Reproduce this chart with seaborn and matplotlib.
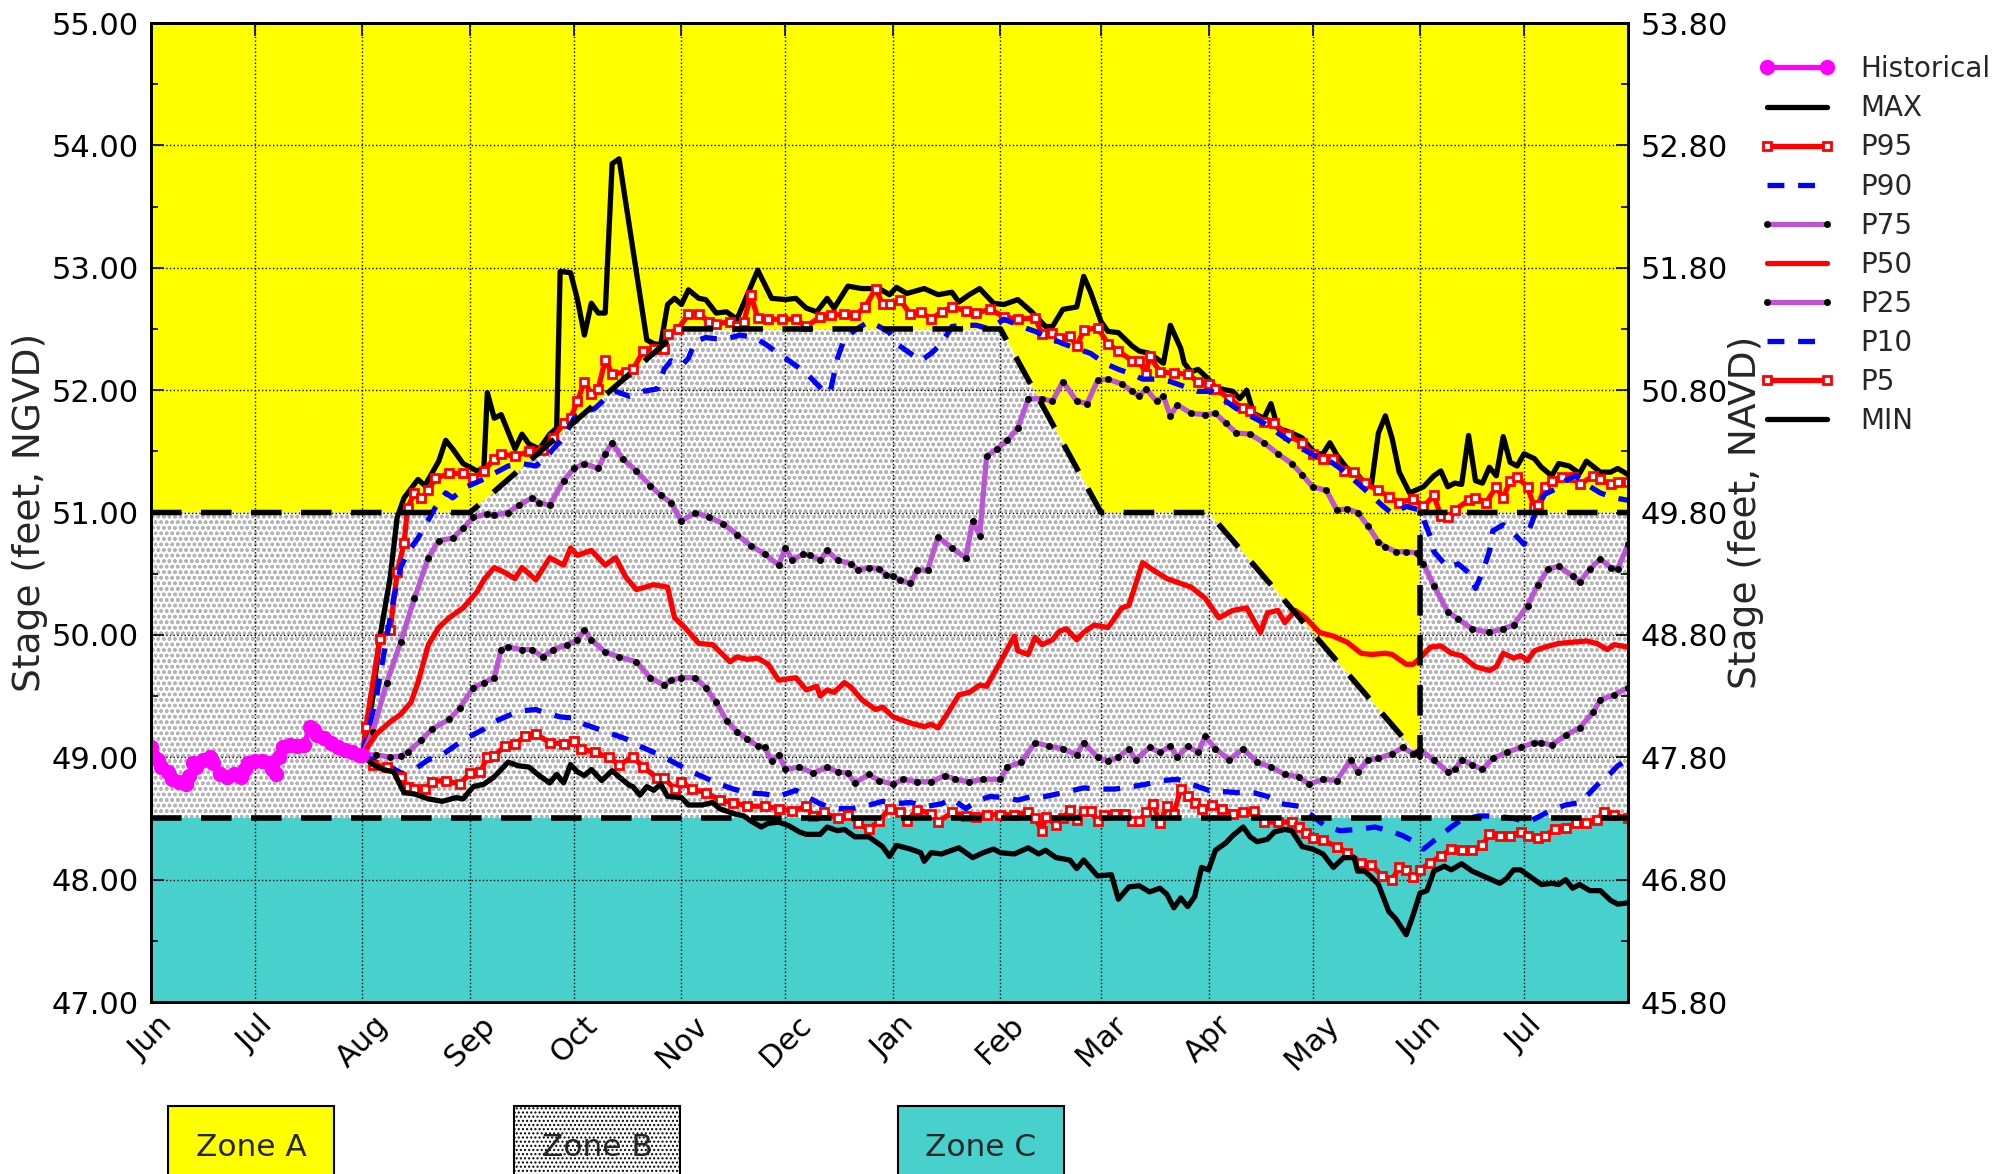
import matplotlib
matplotlib.use("Agg")
import matplotlib.dates as mdates
import matplotlib.pyplot as plt
import numpy as np
import pandas as pd
import seaborn as sns
from matplotlib.ticker import FormatStrFormatter, MultipleLocator

# ── Dates ──────────────────────────────────────────────────────────────────
HIST_START = "2019-06-01"   # day 0 of the historical record
FCST_START = "2019-08-01"   # day 0 of the forecast traces
X_START = "2019-06-01"
X_END = "2020-07-31"

# ── Historical stage (day from Jun 1, feet NGVD) ──────────────────────────
HISTORICAL = [(0, 49.08), (1, 49.00), (2, 48.98), (3, 48.92), (5, 48.88), (6, 48.82),
              (8, 48.80), (10, 48.78), (11, 48.85), (12, 48.95), (13, 48.92), (15, 48.98),
              (17, 49.00), (18, 48.95), (20, 48.86), (22, 48.84), (24, 48.86), (26, 48.84),
              (27, 48.90), (28, 48.95), (30, 48.97), (32, 48.97), (34, 48.95), (35, 48.90),
              (36, 48.86), (37, 49.00), (38, 49.08), (40, 49.10), (42, 49.09), (44, 49.10),
              (46, 49.25), (47, 49.22), (48, 49.18), (50, 49.16), (52, 49.12), (54, 49.08),
              (56, 49.06), (58, 49.04), (60, 49.02), (61, 49.02)]

# ── Forecast traces (day from Aug 1, feet NGVD) ───────────────────────────
MAX = [(0, 49.02), (3, 49.49), (5, 49.98), (8, 50.47), (10, 50.96), (12, 51.12), (16, 51.27),
       (18, 51.22), (22, 51.42), (24, 51.59), (26, 51.52), (29, 51.40), (33, 51.34), (35, 51.36),
       (36, 51.98), (38, 51.77), (40, 51.80), (44, 51.52), (46, 51.64), (48, 51.56), (51, 51.52),
       (54, 51.64), (56, 51.69), (57, 52.97), (60, 52.96), (62, 52.74), (64, 52.45), (66, 52.71),
       (68, 52.63), (70, 52.63), (72, 53.85), (74, 53.89), (78, 53.15), (82, 52.41), (84, 52.38),
       (86, 52.37), (88, 52.70), (90, 52.75), (92, 52.70), (94, 52.82), (97, 52.75), (99, 52.74),
       (102, 52.63), (105, 52.64), (108, 52.58), (111, 52.78), (114, 52.98), (118, 52.75),
       (122, 52.74), (125, 52.75), (128, 52.67), (131, 52.64), (134, 52.75), (136, 52.67),
       (140, 52.85), (144, 52.83), (147, 52.83), (149, 52.83), (152, 52.78), (154, 52.84),
       (157, 52.79), (162, 52.83), (166, 52.78), (170, 52.80), (172, 52.72), (175, 52.78),
       (178, 52.83), (182, 52.71), (185, 52.70), (189, 52.74), (193, 52.64), (197, 52.52),
       (199, 52.52), (202, 52.66), (206, 52.68), (208, 52.93), (210, 52.80), (213, 52.56),
       (215, 52.48), (218, 52.47), (222, 52.36), (224, 52.32), (227, 52.30), (231, 52.22),
       (233, 52.53), (236, 52.34), (237, 52.22), (239, 52.15), (241, 52.17), (244, 52.09),
       (246, 52.02), (251, 51.99), (253, 51.93), (255, 52.00), (257, 51.81), (260, 51.77),
       (262, 51.89), (264, 51.69), (268, 51.65), (271, 51.61), (273, 51.54), (275, 51.48),
       (277, 51.48), (279, 51.57), (281, 51.47), (284, 51.36), (287, 51.31), (289, 51.24),
       (291, 51.23), (293, 51.65), (295, 51.79), (297, 51.60), (299, 51.33), (302, 51.16),
       (306, 51.21), (309, 51.30), (311, 51.34), (313, 51.21), (315, 51.24), (317, 51.23),
       (319, 51.63), (321, 51.26), (323, 51.24), (325, 51.37), (327, 51.30), (329, 51.62),
       (331, 51.41), (333, 51.38), (335, 51.48), (338, 51.44), (340, 51.37), (343, 51.30),
       (345, 51.40), (348, 51.38), (351, 51.32), (353, 51.42), (357, 51.33), (360, 51.33),
       (362, 51.36), (365, 51.31)]

P95 = [(0, 49.02), (1, 49.25), (5, 49.97), (8, 50.04), (10, 50.51), (12, 50.75), (13, 51.04),
       (15, 51.16), (17, 51.12), (19, 51.18), (21, 51.28), (25, 51.32), (29, 51.32), (32, 51.28),
       (35, 51.34), (38, 51.44), (40, 51.48), (44, 51.46), (48, 51.50), (52, 51.51), (55, 51.61),
       (58, 51.73), (60, 51.77), (62, 51.91), (64, 52.07), (66, 51.97), (68, 52.01), (70, 52.25),
       (72, 52.13), (76, 52.15), (78, 52.17), (81, 52.32), (84, 52.34), (87, 52.34), (88, 52.46),
       (91, 52.50), (94, 52.62), (97, 52.62), (100, 52.56), (102, 52.54), (106, 52.56),
       (108, 52.52), (110, 52.56), (112, 52.78), (114, 52.59), (117, 52.58), (121, 52.58),
       (125, 52.58), (128, 52.52), (132, 52.60), (135, 52.61), (139, 52.62), (142, 52.61),
       (145, 52.68), (148, 52.83), (150, 52.70), (152, 52.70), (155, 52.74), (158, 52.62),
       (161, 52.64), (164, 52.58), (167, 52.64), (170, 52.68), (174, 52.65), (177, 52.63),
       (181, 52.66), (185, 52.60), (189, 52.58), (194, 52.59), (196, 52.46), (199, 52.47),
       (201, 52.43), (204, 52.44), (206, 52.36), (208, 52.49), (212, 52.51), (215, 52.38),
       (218, 52.32), (222, 52.24), (224, 52.24), (226, 52.13), (227, 52.28), (230, 52.15),
       (234, 52.14), (238, 52.13), (241, 52.07), (244, 52.05), (246, 52.01), (250, 51.93),
       (254, 51.85), (256, 51.83), (260, 51.74), (263, 51.73), (267, 51.63), (271, 51.57),
       (274, 51.48), (277, 51.44), (280, 51.44), (283, 51.34), (286, 51.33), (289, 51.24),
       (293, 51.18), (296, 51.13), (299, 51.08), (303, 51.11), (306, 51.05), (309, 51.14),
       (311, 50.97), (313, 50.96), (315, 51.02), (319, 51.10), (321, 51.12), (324, 51.08),
       (327, 51.21), (329, 51.12), (331, 51.26), (333, 51.29), (336, 51.21), (338, 51.04),
       (339, 51.06), (341, 51.21), (343, 51.26), (346, 51.29), (349, 51.29), (351, 51.23),
       (355, 51.30), (357, 51.27), (360, 51.23), (362, 51.25), (365, 51.25)]

P90 = [(0, 49.02), (4, 49.49), (7, 49.98), (9, 50.30), (11, 50.55), (13, 50.67), (16, 50.79),
       (21, 51.04), (24, 51.16), (26, 51.12), (30, 51.21), (34, 51.26), (38, 51.32), (42, 51.38),
       (46, 51.40), (50, 51.38), (53, 51.45), (55, 51.52), (58, 51.61), (61, 51.77), (63, 51.81),
       (67, 51.85), (70, 51.93), (73, 51.99), (77, 51.95), (81, 51.99), (85, 52.01), (87, 52.17),
       (89, 52.24), (92, 52.20), (94, 52.26), (96, 52.40), (99, 52.43), (102, 52.42),
       (105, 52.42), (109, 52.45), (113, 52.43), (116, 52.38), (121, 52.28), (125, 52.20),
       (128, 52.14), (131, 52.05), (134, 51.97), (135, 52.00), (137, 52.26), (139, 52.42),
       (142, 52.49), (146, 52.56), (149, 52.52), (152, 52.47), (154, 52.38), (158, 52.30),
       (161, 52.24), (164, 52.30), (167, 52.38), (170, 52.52), (174, 52.53), (177, 52.53),
       (181, 52.50), (185, 52.58), (190, 52.52), (194, 52.48), (198, 52.43), (202, 52.38),
       (206, 52.34), (210, 52.30), (214, 52.22), (218, 52.17), (222, 52.13), (225, 52.09),
       (229, 52.09), (233, 52.07), (237, 52.03), (241, 51.99), (245, 51.99), (248, 51.93),
       (252, 51.85), (256, 51.79), (260, 51.73), (264, 51.65), (268, 51.57), (271, 51.52),
       (275, 51.46), (279, 51.42), (283, 51.34), (287, 51.24), (291, 51.14), (294, 51.06),
       (297, 50.99), (301, 51.05), (305, 51.02), (308, 50.80), (309, 50.68), (313, 50.55),
       (316, 50.58), (319, 50.51), (321, 50.38), (323, 50.51), (325, 50.68), (326, 50.85),
       (329, 50.90), (332, 50.83), (335, 50.74), (337, 50.90), (339, 51.05), (341, 51.15),
       (344, 51.19), (347, 51.26), (350, 51.30), (353, 51.23), (357, 51.16), (361, 51.12),
       (365, 51.10)]

P75 = [(0, 49.02), (3, 49.21), (7, 49.61), (11, 49.94), (15, 50.30), (19, 50.63), (22, 50.77),
       (26, 50.79), (29, 50.87), (32, 50.96), (36, 50.99), (38, 50.98), (42, 51.00), (45, 51.06),
       (49, 51.12), (51, 51.08), (54, 51.06), (58, 51.26), (61, 51.36), (64, 51.40), (68, 51.36),
       (70, 51.48), (72, 51.57), (75, 51.44), (79, 51.34), (83, 51.22), (86, 51.14), (89, 51.08),
       (92, 50.93), (96, 51.00), (100, 50.96), (104, 50.91), (108, 50.82), (112, 50.73),
       (116, 50.66), (120, 50.57), (122, 50.71), (124, 50.61), (127, 50.66), (129, 50.65),
       (132, 50.61), (134, 50.69), (137, 50.61), (141, 50.58), (143, 50.53), (146, 50.55),
       (149, 50.54), (151, 50.49), (153, 50.48), (155, 50.45), (158, 50.42), (160, 50.53),
       (163, 50.53), (166, 50.80), (170, 50.71), (174, 50.63), (176, 50.93), (178, 50.81),
       (180, 51.46), (183, 51.52), (186, 51.59), (189, 51.69), (192, 51.93), (196, 51.93),
       (199, 51.91), (202, 52.07), (206, 51.91), (209, 51.89), (212, 52.08), (215, 52.09),
       (219, 52.05), (222, 51.99), (224, 51.95), (226, 52.01), (229, 51.91), (231, 51.95),
       (233, 51.79), (235, 51.88), (239, 51.81), (243, 51.80), (246, 51.81), (249, 51.73),
       (252, 51.65), (256, 51.64), (260, 51.57), (264, 51.48), (268, 51.40), (271, 51.31),
       (274, 51.21), (278, 51.18), (281, 51.02), (284, 51.03), (287, 51.00), (290, 50.89),
       (293, 50.76), (295, 50.72), (298, 50.68), (301, 50.68), (304, 50.67), (306, 50.58),
       (309, 50.40), (313, 50.19), (316, 50.13), (320, 50.05), (325, 50.02), (329, 50.05),
       (332, 50.08), (336, 50.24), (339, 50.41), (342, 50.54), (345, 50.56), (349, 50.48),
       (351, 50.43), (354, 50.54), (357, 50.62), (360, 50.55), (362, 50.54), (365, 50.74)]

P50 = [(0, 49.02), (4, 49.19), (8, 49.29), (11, 49.35), (14, 49.45), (16, 49.61), (19, 49.92),
       (22, 50.06), (25, 50.14), (29, 50.22), (33, 50.35), (35, 50.45), (38, 50.55), (41, 50.51),
       (44, 50.46), (46, 50.55), (50, 50.45), (54, 50.63), (58, 50.57), (60, 50.71), (62, 50.65),
       (66, 50.69), (70, 50.57), (73, 50.63), (76, 50.47), (79, 50.37), (84, 50.41), (88, 50.39),
       (90, 50.14), (93, 50.06), (97, 49.93), (101, 49.92), (106, 49.78), (108, 49.82),
       (111, 49.80), (114, 49.81), (117, 49.76), (120, 49.63), (125, 49.65), (128, 49.55),
       (131, 49.58), (132, 49.50), (134, 49.55), (136, 49.53), (139, 49.61), (141, 49.57),
       (144, 49.47), (148, 49.39), (150, 49.41), (153, 49.33), (155, 49.31), (158, 49.28),
       (162, 49.25), (164, 49.27), (166, 49.24), (169, 49.37), (172, 49.51), (175, 49.53),
       (178, 49.59), (180, 49.58), (184, 49.78), (188, 49.99), (189, 49.87), (192, 49.84),
       (194, 49.98), (196, 49.92), (199, 49.96), (201, 50.03), (203, 50.05), (206, 49.96),
       (208, 50.02), (211, 50.08), (215, 50.06), (219, 50.22), (221, 50.24), (225, 50.59),
       (228, 50.53), (232, 50.46), (235, 50.43), (239, 50.39), (243, 50.30), (247, 50.14),
       (251, 50.20), (255, 50.22), (259, 50.02), (261, 50.18), (264, 50.20), (266, 50.10),
       (269, 50.20), (272, 50.14), (276, 50.02), (280, 49.99), (284, 49.94), (288, 49.85),
       (291, 49.84), (295, 49.85), (297, 49.84), (301, 49.76), (303, 49.76), (305, 49.81),
       (308, 49.90), (311, 49.91), (314, 49.85), (317, 49.83), (321, 49.74), (325, 49.71),
       (327, 49.74), (329, 49.85), (332, 49.81), (334, 49.83), (336, 49.79), (338, 49.87),
       (341, 49.90), (345, 49.93), (349, 49.94), (353, 49.95), (356, 49.93), (359, 49.88),
       (361, 49.92), (365, 49.90)]

P25 = [(0, 49.02), (4, 49.02), (8, 49.00), (11, 49.01), (13, 49.04), (17, 49.14), (20, 49.23),
       (25, 49.31), (28, 49.40), (32, 49.57), (35, 49.61), (38, 49.65), (40, 49.88), (42, 49.90),
       (46, 49.88), (49, 49.88), (52, 49.82), (55, 49.88), (59, 49.92), (62, 49.96), (64, 50.04),
       (66, 49.96), (70, 49.86), (74, 49.82), (79, 49.78), (83, 49.65), (87, 49.59), (89, 49.63),
       (92, 49.65), (96, 49.65), (99, 49.57), (102, 49.45), (105, 49.30), (108, 49.21),
       (111, 49.15), (114, 49.09), (116, 49.08), (118, 48.97), (120, 49.02), (122, 48.90),
       (126, 48.92), (130, 48.87), (134, 48.92), (137, 48.88), (140, 48.87), (142, 48.79),
       (146, 48.86), (149, 48.81), (153, 48.78), (156, 48.82), (160, 48.80), (164, 48.80),
       (168, 48.85), (171, 48.82), (175, 48.80), (179, 48.82), (184, 48.82), (186, 48.92),
       (190, 48.96), (194, 49.12), (198, 49.09), (202, 49.07), (206, 49.02), (208, 49.12),
       (212, 49.00), (215, 48.97), (218, 49.00), (221, 49.07), (223, 48.98), (227, 49.08),
       (230, 49.04), (233, 49.09), (235, 49.00), (238, 49.09), (241, 49.04), (243, 49.17),
       (246, 49.07), (250, 48.98), (254, 49.07), (258, 48.96), (262, 48.92), (266, 48.86),
       (270, 48.84), (273, 48.78), (277, 48.82), (281, 48.81), (285, 48.98), (287, 48.88),
       (290, 48.98), (293, 48.99), (297, 49.03), (300, 49.08), (303, 49.03), (305, 49.06),
       (309, 48.98), (313, 48.88), (315, 48.90), (317, 48.98), (320, 48.94), (323, 48.90),
       (326, 48.99), (330, 49.04), (334, 49.08), (338, 49.12), (340, 49.12), (343, 49.10),
       (347, 49.18), (351, 49.24), (355, 49.37), (357, 49.47), (361, 49.51), (365, 49.57)]

P10 = [(0, 49.02), (4, 48.96), (8, 48.92), (12, 48.86), (15, 48.90), (19, 48.98), (23, 49.02),
       (27, 49.10), (31, 49.17), (35, 49.23), (38, 49.29), (42, 49.34), (46, 49.38), (50, 49.39),
       (53, 49.36), (57, 49.33), (61, 49.32), (64, 49.27), (68, 49.23), (72, 49.19), (76, 49.15),
       (80, 49.09), (84, 49.04), (87, 49.00), (91, 48.94), (95, 48.88), (99, 48.83), (103, 48.78),
       (107, 48.74), (111, 48.71), (116, 48.70), (120, 48.68), (125, 48.73), (128, 48.68),
       (132, 48.62), (136, 48.58), (141, 48.58), (145, 48.60), (150, 48.64), (153, 48.62),
       (158, 48.63), (163, 48.60), (167, 48.62), (170, 48.66), (174, 48.58), (177, 48.64),
       (181, 48.68), (185, 48.67), (189, 48.65), (193, 48.68), (197, 48.68), (202, 48.71),
       (208, 48.75), (212, 48.74), (217, 48.74), (222, 48.76), (226, 48.78), (231, 48.81),
       (235, 48.82), (240, 48.77), (244, 48.73), (248, 48.72), (253, 48.71), (257, 48.71),
       (261, 48.68), (265, 48.62), (270, 48.60), (274, 48.52), (278, 48.43), (282, 48.40),
       (287, 48.41), (292, 48.43), (296, 48.40), (300, 48.36), (304, 48.30), (306, 48.25),
       (310, 48.34), (314, 48.43), (317, 48.49), (322, 48.52), (327, 48.52), (332, 48.50),
       (336, 48.47), (339, 48.51), (343, 48.57), (347, 48.61), (351, 48.63), (354, 48.71),
       (357, 48.80), (360, 48.87), (362, 48.93), (365, 48.98)]

P5 = [(0, 49.02), (3, 48.94), (7, 48.92), (11, 48.84), (13, 48.76), (15, 48.74), (18, 48.74),
      (20, 48.80), (24, 48.81), (28, 48.78), (31, 48.87), (34, 48.88), (36, 49.00), (38, 49.01),
      (41, 49.09), (44, 49.11), (47, 49.17), (50, 49.19), (54, 49.12), (58, 49.11), (61, 49.13),
      (63, 49.07), (67, 49.04), (71, 49.00), (74, 48.94), (78, 49.00), (81, 48.92), (85, 48.83),
      (87, 48.83), (90, 48.74), (92, 48.80), (95, 48.74), (99, 48.71), (103, 48.65),
      (107, 48.63), (111, 48.60), (116, 48.60), (120, 48.58), (124, 48.56), (128, 48.60),
      (130, 48.52), (133, 48.55), (137, 48.50), (140, 48.53), (143, 48.46), (146, 48.41),
      (149, 48.48), (152, 48.58), (155, 48.55), (157, 48.48), (160, 48.57), (164, 48.54),
      (166, 48.47), (170, 48.55), (174, 48.52), (177, 48.51), (180, 48.53), (184, 48.53),
      (188, 48.53), (192, 48.55), (194, 48.50), (196, 48.40), (197, 48.51), (200, 48.45),
      (202, 48.50), (204, 48.57), (206, 48.49), (208, 48.56), (210, 48.56), (212, 48.48),
      (214, 48.53), (217, 48.54), (220, 48.54), (222, 48.48), (224, 48.48), (226, 48.55),
      (228, 48.62), (230, 48.46), (232, 48.60), (234, 48.54), (236, 48.74), (238, 48.68),
      (240, 48.63), (242, 48.58), (245, 48.61), (248, 48.58), (251, 48.54), (254, 48.55),
      (257, 48.56), (260, 48.47), (264, 48.47), (268, 48.47), (270, 48.43), (272, 48.38),
      (274, 48.34), (277, 48.32), (281, 48.27), (284, 48.22), (288, 48.14), (291, 48.12),
      (294, 48.03), (297, 48.00), (299, 48.10), (301, 48.08), (303, 48.02), (305, 48.08),
      (308, 48.14), (311, 48.19), (314, 48.25), (317, 48.24), (320, 48.24), (323, 48.28),
      (325, 48.37), (328, 48.36), (331, 48.36), (334, 48.39), (336, 48.36), (339, 48.34),
      (341, 48.36), (344, 48.41), (347, 48.42), (350, 48.46), (353, 48.46), (356, 48.49),
      (358, 48.55), (361, 48.53), (365, 48.50)]

MIN = [(0, 49.02), (3, 48.94), (6, 48.90), (9, 48.88), (12, 48.71), (15, 48.70), (19, 48.66),
       (23, 48.64), (27, 48.67), (29, 48.66), (32, 48.76), (35, 48.78), (38, 48.84), (42, 48.96),
       (45, 48.93), (48, 48.92), (51, 48.85), (54, 48.79), (56, 48.86), (58, 48.79), (60, 48.94),
       (62, 48.88), (64, 48.85), (66, 48.90), (69, 48.81), (72, 48.89), (74, 48.84), (77, 48.77),
       (78, 48.76), (80, 48.69), (82, 48.76), (84, 48.73), (86, 48.78), (88, 48.68), (92, 48.67),
       (94, 48.61), (98, 48.61), (101, 48.63), (103, 48.58), (107, 48.54), (110, 48.52),
       (112, 48.48), (115, 48.43), (117, 48.46), (120, 48.47), (123, 48.44), (126, 48.39),
       (128, 48.37), (132, 48.37), (134, 48.43), (137, 48.40), (139, 48.41), (142, 48.35),
       (146, 48.35), (150, 48.27), (152, 48.19), (154, 48.28), (158, 48.25), (161, 48.22),
       (162, 48.15), (164, 48.22), (167, 48.21), (170, 48.24), (172, 48.26), (176, 48.18),
       (179, 48.22), (182, 48.25), (184, 48.22), (188, 48.21), (192, 48.26), (195, 48.21),
       (197, 48.24), (200, 48.18), (204, 48.16), (206, 48.09), (208, 48.16), (212, 48.03),
       (216, 48.04), (218, 47.84), (221, 47.94), (224, 47.95), (227, 47.90), (230, 47.93),
       (232, 47.88), (234, 47.77), (236, 47.85), (238, 47.78), (240, 47.86), (242, 48.10),
       (244, 48.08), (246, 48.24), (249, 48.30), (251, 48.36), (254, 48.43), (256, 48.35),
       (258, 48.31), (261, 48.33), (263, 48.39), (266, 48.41), (268, 48.40), (271, 48.27),
       (274, 48.25), (277, 48.21), (280, 48.10), (283, 48.18), (286, 48.18), (287, 48.07),
       (289, 48.07), (291, 48.02), (293, 47.96), (296, 47.74), (298, 47.68), (301, 47.55),
       (303, 47.71), (305, 47.89), (307, 47.91), (309, 48.07), (312, 48.11), (314, 48.08),
       (317, 48.13), (320, 48.07), (324, 48.02), (328, 47.97), (330, 48.01), (332, 48.08),
       (334, 48.08), (337, 48.02), (340, 47.96), (343, 47.97), (345, 47.96), (347, 48.00),
       (349, 47.93), (351, 47.96), (354, 47.91), (357, 47.91), (360, 47.83), (362, 47.80),
       (365, 47.81)]

# ── Zone boundaries ───────────────────────────────────────────────────────
ZONE_AB_DATES = ["2019-06-01", "2019-09-01", "2019-11-01", "2020-02-01", "2020-03-01",
                 "2020-04-01", "2020-06-01", "2020-06-01", "2020-07-31"]
ZONE_AB_STAGE = [51.0, 51.0, 52.5, 52.5, 51.0, 51.0, 49.0, 51.0, 51.0]
ZONE_BC_STAGE = 48.5

Y_MIN, Y_MAX = 47.0, 55.0
NAVD_OFFSET = 1.2

YELLOW = "#FFFF00"
TEAL = "#48D1CC"
ORCHID = "#BA55D3"
LW = 3.8


def to_frame(pairs, start):
    df = pd.DataFrame(pairs, columns=["day", "stage"])
    df["date"] = pd.Timestamp(start) + pd.to_timedelta(df["day"], unit="D")
    return df


def draw_trace(ax, pairs, start, label, **style):
    df = to_frame(pairs, start)
    sns.lineplot(data=df, x="date", y="stage", ax=ax, estimator=None, errorbar=None,
                 label=label, legend=False, **style)
    return ax.lines[-1]


sns.set_theme(style="white")
plt.rcParams.update({
    "font.family": ["DejaVu Sans"],
    "axes.edgecolor": "black",
    "axes.linewidth": 2.0,
    "xtick.direction": "in",
    "ytick.direction": "in",
    "xtick.color": "black",
    "ytick.color": "black",
    "hatch.linewidth": 1.0,
})

fig = plt.figure(figsize=(20.05, 11.74), dpi=100)
ax = fig.add_axes([0.0753, 0.1465, 0.7367, 0.8339])

# zones
zdates = pd.to_datetime(ZONE_AB_DATES)
ax.fill_between(zdates, ZONE_AB_STAGE, Y_MAX, facecolor=YELLOW, linewidth=0, zorder=0.5)
ax.fill_between(zdates, ZONE_BC_STAGE, ZONE_AB_STAGE, facecolor="white",
                edgecolor="#b4b4b4", hatch="ooo", linewidth=0, zorder=0.5)
ax.fill_between(zdates, Y_MIN, ZONE_BC_STAGE, facecolor=TEAL, linewidth=0, zorder=0.5)

bound_style = dict(color="black", lw=4, linestyle=(0, (5.5, 3.5)), zorder=4)
ax.plot(zdates, ZONE_AB_STAGE, **bound_style)
ax.plot([pd.Timestamp(X_START), pd.Timestamp(X_END)], [ZONE_BC_STAGE] * 2, **bound_style)

# traces
handles = []
handles.append(draw_trace(ax, HISTORICAL, HIST_START, "Historical", color="magenta", lw=LW,
                          marker="o", markersize=10, markerfacecolor="magenta",
                          markeredgecolor="magenta", markeredgewidth=1, zorder=5))
sq = dict(marker="s", markersize=5.5, markerfacecolor="white", markeredgecolor="red",
          markeredgewidth=2)
dots = dict(marker="o", markersize=4.5, markerfacecolor="black", markeredgecolor="black",
            markeredgewidth=0.5)
handles.append(draw_trace(ax, MAX, FCST_START, "MAX", color="black", lw=LW, zorder=3))
handles.append(draw_trace(ax, P95, FCST_START, "P95", color="red", lw=LW, zorder=3, **sq))
h = draw_trace(ax, P90, FCST_START, "P90", color="blue", lw=LW, zorder=3)
h.set_dashes((3.2, 2.6))
handles.append(h)
handles.append(draw_trace(ax, P75, FCST_START, "P75", color=ORCHID, lw=LW, zorder=3, **dots))
handles.append(draw_trace(ax, P50, FCST_START, "P50", color="red", lw=LW, zorder=3))
handles.append(draw_trace(ax, P25, FCST_START, "P25", color=ORCHID, lw=LW, zorder=3, **dots))
h = draw_trace(ax, P10, FCST_START, "P10", color="blue", lw=LW, zorder=3)
h.set_dashes((3.2, 2.6))
handles.append(h)
handles.append(draw_trace(ax, P5, FCST_START, "P5", color="red", lw=LW, zorder=3, **sq))
handles.append(draw_trace(ax, MIN, FCST_START, "MIN", color="black", lw=LW, zorder=3))

# axes
ax.set_xlim(pd.Timestamp(X_START), pd.Timestamp(X_END))
ax.set_ylim(Y_MIN, Y_MAX)
ax.xaxis.set_major_locator(mdates.MonthLocator())
ax.xaxis.set_major_formatter(mdates.DateFormatter("%b"))
ax.yaxis.set_major_locator(MultipleLocator(1.0))
ax.yaxis.set_minor_locator(MultipleLocator(0.5))
ax.yaxis.set_major_formatter(FormatStrFormatter("%.2f"))
ax.grid(True, which="major", color="black", linestyle=":", linewidth=1.0)
ax.tick_params(axis="both", which="major", labelsize=22, length=9, width=1.2, top=True)
ax.tick_params(axis="y", which="major", pad=9)
ax.tick_params(axis="y", which="minor", length=5, width=1.2, left=True)
ax.tick_params(axis="x", labelrotation=45, pad=6)
ax.set_xlabel("")
ax.set_ylabel("Stage (feet, NGVD)", fontsize=27, labelpad=2)

ax2 = ax.twinx()
ax2.set_ylim(Y_MIN - NAVD_OFFSET, Y_MAX - NAVD_OFFSET)
ax2.set_yticks(np.arange(Y_MIN - NAVD_OFFSET, Y_MAX - NAVD_OFFSET + 0.01, 1.0))
ax2.set_yticks(np.arange(Y_MIN - NAVD_OFFSET + 0.5, Y_MAX - NAVD_OFFSET, 1.0), minor=True)
ax2.yaxis.set_major_formatter(FormatStrFormatter("%.2f"))
ax2.tick_params(axis="y", which="major", labelsize=22, length=9, width=1.2, pad=9)
ax2.tick_params(axis="y", which="minor", length=5, width=1.2)
ax2.set_ylabel("Stage (feet, NAVD)", fontsize=27, labelpad=0)
for sp in ax2.spines.values():
    sp.set_linewidth(2.0)
    sp.set_color("black")

fig.legend(handles=handles, labels=[hh.get_label() for hh in handles],
           loc="upper left", bbox_to_anchor=(0.877, 0.953), bbox_transform=fig.transFigure,
           frameon=False, fontsize=20, numpoints=2, handlelength=2.77,
           handletextpad=0.9, labelspacing=0.40, borderpad=0, borderaxespad=0)

# zone key boxes
for xc, name, face, hatch in [(0.1252, "Zone A", YELLOW, None),
                              (0.2978, "Zone B", "white", "...."),
                              (0.4893, "Zone C", TEAL, None)]:
    fig.text(xc, 0.0153, name, ha="center", va="baseline", fontsize=22.5,
             bbox=dict(boxstyle="square,pad=0.88", facecolor=face, edgecolor="black",
                       linewidth=1.5, hatch=hatch))

fig.savefig("out.png", dpi=100)
